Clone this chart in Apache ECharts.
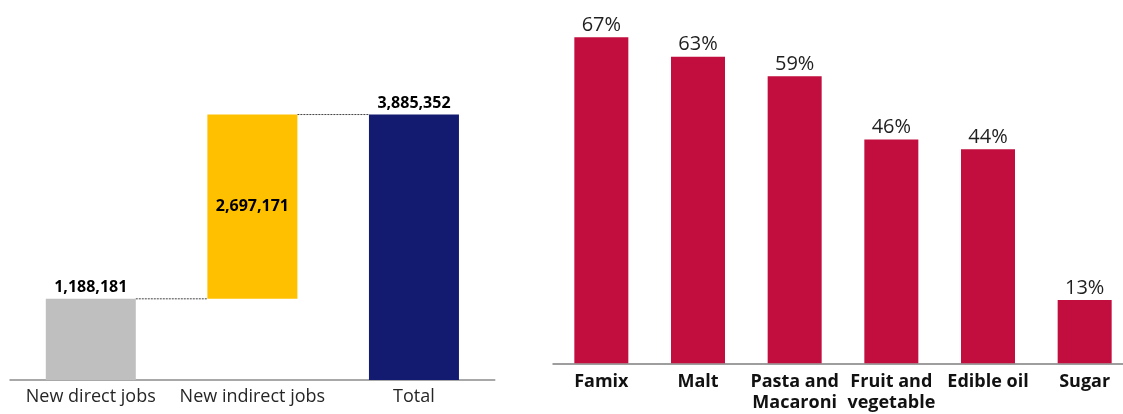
<!DOCTYPE html>
<html>
<head>
<meta charset="utf-8">
<script src="https://cdn.jsdelivr.net/npm/echarts@6/dist/echarts.min.js"></script>
<style>
  html, body { margin: 0; padding: 0; background: #ffffff; }
  #chart { width: 1123px; height: 414px; }
</style>
</head>
<body>
<div id="chart"></div>
<script>
// Jobs waterfall
const jobCategories = ['New direct jobs', 'New indirect jobs', 'Total'];
const directJobs = 1188181;
const indirectJobs = 2697171;
const totalJobs = 3885352;
const jobColors = ['#BFBFBF', '#FFC000', '#121B6F'];

// Product shares
const productCategories = ['Famix', 'Malt', 'Pasta and\nMacaroni', 'Fruit and\nvegetable', 'Edible oil', 'Sugar'];
const productShares = [67, 63, 59, 46, 44, 13];

const FONT = 'Open Sans';
const fmt = v => v.toLocaleString('en-US');

// stacked waterfall: invisible base + visible step
const jobBase = [0, directJobs, 0];
const jobSteps = [directJobs, indirectJobs, totalJobs];
// connector levels: running total after each step
const connectorLevels = [[0, directJobs], [1, directJobs + indirectJobs]];

const JOB_BAR_W = 90;

const chart = echarts.init(document.getElementById('chart'), null, { renderer: 'canvas' });

chart.setOption({
  animation: false,
  textStyle: { fontFamily: FONT },
  grid: [
    { left: 10, width: 484.75, top: 106.7, bottom: 34, outerBoundsMode: 'none', containLabel: false },
    { left: 553, width: 580, top: 22.7, bottom: 50.7, outerBoundsMode: 'none', containLabel: false }
  ],
  xAxis: [
    {
      gridIndex: 0, type: 'category', data: jobCategories,
      axisLine: { lineStyle: { color: '#8C8C8C', width: 1.5 } },
      axisTick: { show: false },
      axisLabel: { color: '#262626', fontSize: 18, fontFamily: FONT, margin: 8, interval: 0 }
    },
    {
      gridIndex: 1, type: 'category', data: productCategories,
      axisLine: { lineStyle: { color: '#7F7F7F', width: 1.5 } },
      axisTick: { show: false },
      axisLabel: { color: '#111111', fontSize: 18, fontWeight: 'bold', fontFamily: FONT, margin: 8, interval: 0, lineHeight: 21 }
    }
  ],
  yAxis: [
    { gridIndex: 0, type: 'value', min: 0, max: 4000000, show: false, splitLine: { show: false } },
    { gridIndex: 1, type: 'value', min: 0, max: 70, show: false, splitLine: { show: false } }
  ],
  series: [
    {
      // dotted connectors from one step's edge to the next bar's edge
      type: 'custom', xAxisIndex: 0, yAxisIndex: 0, z: 1, silent: true,
      data: connectorLevels,
      renderItem: (params, api) => {
        const a = api.coord([api.value(0), api.value(1)]);
        const b = api.coord([api.value(0) + 1, api.value(1)]);
        return {
          type: 'line',
          shape: { x1: a[0] + JOB_BAR_W / 2, y1: a[1], x2: b[0] - JOB_BAR_W / 2, y2: b[1] },
          style: { stroke: '#444444', lineWidth: 1, lineDash: [2, 1] }
        };
      }
    },
    {
      type: 'bar', xAxisIndex: 0, yAxisIndex: 0, stack: 'jobs', barWidth: JOB_BAR_W, z: 2,
      itemStyle: { color: 'transparent' },
      data: jobBase, silent: true
    },
    {
      type: 'bar', xAxisIndex: 0, yAxisIndex: 0, stack: 'jobs', barWidth: JOB_BAR_W, z: 3,
      data: jobSteps.map((v, i) => ({
        value: v,
        itemStyle: { color: jobColors[i] },
        label: i === 1
          ? { show: true, position: 'inside' }
          : { show: true, position: 'top', distance: 3 }
      })),
      label: {
        show: true, color: '#000000', fontSize: 16, fontWeight: 'bold', fontFamily: FONT,
        formatter: p => fmt(p.value)
      }
    },
    {
      type: 'bar', xAxisIndex: 1, yAxisIndex: 1, barWidth: 54,
      itemStyle: { color: '#C20E3E' },
      data: productShares,
      label: {
        show: true, position: 'top', distance: 2, color: '#1F1F1F', fontSize: 20, fontFamily: FONT,
        formatter: p => p.value + '%'
      }
    }
  ]
});
</script>
</body>
</html>
